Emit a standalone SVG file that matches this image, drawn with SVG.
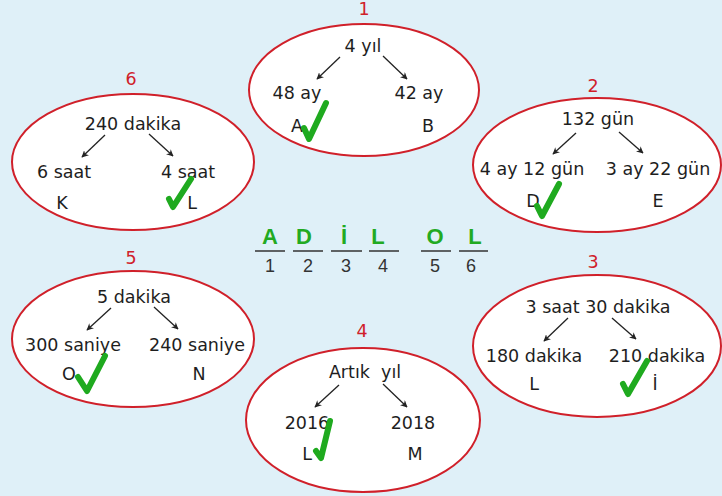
<svg xmlns="http://www.w3.org/2000/svg" width="722" height="496" viewBox="0 0 722 496">
<defs>
<marker id="ah" viewBox="0 0 10 10" refX="9" refY="5" markerWidth="7" markerHeight="7" markerUnits="userSpaceOnUse" orient="auto">
<path d="M0,0 L10,5 L0,10 L3,5 Z" fill="#222"/>
</marker>
<style>
.el{fill:#fff;stroke:#d0202a;stroke-width:2}
.t{font-family:"DejaVu Sans",sans-serif;font-size:17.5px;fill:#1e1e1e;text-anchor:middle}
.n{font-family:"DejaVu Sans",sans-serif;font-size:17.5px;fill:#d0202a;text-anchor:middle}
.ar{stroke:#222;stroke-width:1.3;fill:none;marker-end:url(#ah)}
.ck{stroke:#1faa1f;stroke-width:6;fill:none;stroke-linecap:round;stroke-linejoin:round}
.g{font-family:"Liberation Sans",Arial,sans-serif;font-size:22px;font-weight:bold;fill:#22aa22;text-anchor:middle}
.d{font-family:"Liberation Sans",Arial,sans-serif;font-size:18px;fill:#333;text-anchor:middle}
.ul{stroke:#333;stroke-width:1.5}
</style>
</defs>
<rect width="722" height="496" fill="#dff0f8"/>

<g id="node1">
<text class="n" x="364" y="15">1</text>
<ellipse class="el" cx="364" cy="90" rx="115" ry="66"/>
<text class="t" x="363" y="52">4 yıl</text>
<text class="t" x="297" y="99">48 ay</text>
<text class="t" x="419" y="99">42 ay</text>
<text class="t" x="297" y="132">A</text>
<text class="t" x="428" y="132">B</text>
<path class="ck" d="M304,128 L309,139 L326,103"/>
</g>

<g id="node2">
<text class="n" x="593" y="92">2</text>
<ellipse class="el" cx="597" cy="165" rx="124" ry="67"/>
<text class="t" x="598" y="125">132 gün</text>
<text class="t" x="532" y="175">4 ay 12 gün</text>
<text class="t" x="658" y="175">3 ay 22 gün</text>
<text class="t" x="533" y="207">D</text>
<text class="t" x="658" y="207">E</text>
<path class="ck" d="M537,206 L542,216 L559,184"/>
</g>

<g id="node6">
<text class="n" x="131" y="85">6</text>
<ellipse class="el" cx="133" cy="162" rx="121" ry="68"/>
<text class="t" x="133" y="130">240 dakika</text>
<text class="t" x="64" y="178">6 saat</text>
<text class="t" x="188" y="178">4 saat</text>
<text class="t" x="62" y="209">K</text>
<text class="t" x="192" y="209">L</text>
<path class="ck" d="M169,199 L173,207 L191,179"/>
</g>

<g id="node5">
<text class="n" x="131" y="264">5</text>
<ellipse class="el" cx="133" cy="339" rx="121" ry="68"/>
<text class="t" x="134" y="303">5 dakika</text>
<text class="t" x="73" y="351">300 saniye</text>
<text class="t" x="197" y="351">240 saniye</text>
<text class="t" x="69" y="380">O</text>
<text class="t" x="199" y="380">N</text>
<path class="ck" d="M78,377 L87,391 L105,356"/>
</g>

<g id="node3">
<text class="n" x="593" y="268">3</text>
<ellipse class="el" cx="597" cy="346" rx="124" ry="71"/>
<text class="t" x="598" y="313">3 saat 30 dakika</text>
<text class="t" x="534" y="362">180 dakika</text>
<text class="t" x="657" y="362">210 dakika</text>
<text class="t" x="534" y="390">L</text>
<text class="t" x="655" y="390">İ</text>
<path class="ck" d="M623,384 L628,394 L647,361"/>
</g>

<g id="node4">
<text class="n" x="362" y="337">4</text>
<ellipse class="el" cx="363" cy="420" rx="117" ry="72"/>
<text class="t" x="365" y="378" xml:space="preserve">Artık  yıl</text>
<text class="t" x="307" y="429">2016</text>
<text class="t" x="413" y="429">2018</text>
<text class="t" x="307" y="460">L</text>
<text class="t" x="415" y="460">M</text>
<path class="ck" d="M316,451 L321,458 L330,421"/>
</g>

<g id="connectors">
<line class="ar" x1="340" y1="57" x2="317" y2="79"/>
<line class="ar" x1="383" y1="56" x2="407" y2="79"/>
<line class="ar" x1="576" y1="133" x2="553" y2="154"/>
<line class="ar" x1="619" y1="132" x2="643" y2="153"/>
<line class="ar" x1="105" y1="135" x2="82" y2="157"/>
<line class="ar" x1="149" y1="134" x2="173" y2="156"/>
<line class="ar" x1="111" y1="308" x2="87" y2="330"/>
<line class="ar" x1="154" y1="307" x2="178" y2="329"/>
<line class="ar" x1="568" y1="318" x2="544" y2="341"/>
<line class="ar" x1="612" y1="318" x2="636" y2="339"/>
<line class="ar" x1="339" y1="385" x2="315" y2="407"/>
<line class="ar" x1="383" y1="384" x2="407" y2="407"/>
</g>

<g id="answer">
<text class="g" x="270" y="244">A</text>
<text class="g" x="304" y="244">D</text>
<text class="g" x="344" y="244">İ</text>
<text class="g" x="378" y="244">L</text>
<text class="g" x="435" y="244">O</text>
<text class="g" x="475" y="244">L</text>
<line class="ul" x1="255" y1="251" x2="285" y2="251"/>
<line class="ul" x1="293" y1="251" x2="323" y2="251"/>
<line class="ul" x1="331" y1="251" x2="362" y2="251"/>
<line class="ul" x1="369" y1="251" x2="399" y2="251"/>
<line class="ul" x1="421" y1="251" x2="451" y2="251"/>
<line class="ul" x1="459" y1="251" x2="488" y2="251"/>
<text class="d" x="270" y="272">1</text>
<text class="d" x="308" y="272">2</text>
<text class="d" x="346" y="272">3</text>
<text class="d" x="383" y="272">4</text>
<text class="d" x="435" y="272">5</text>
<text class="d" x="471" y="272">6</text>
</g>
</svg>
